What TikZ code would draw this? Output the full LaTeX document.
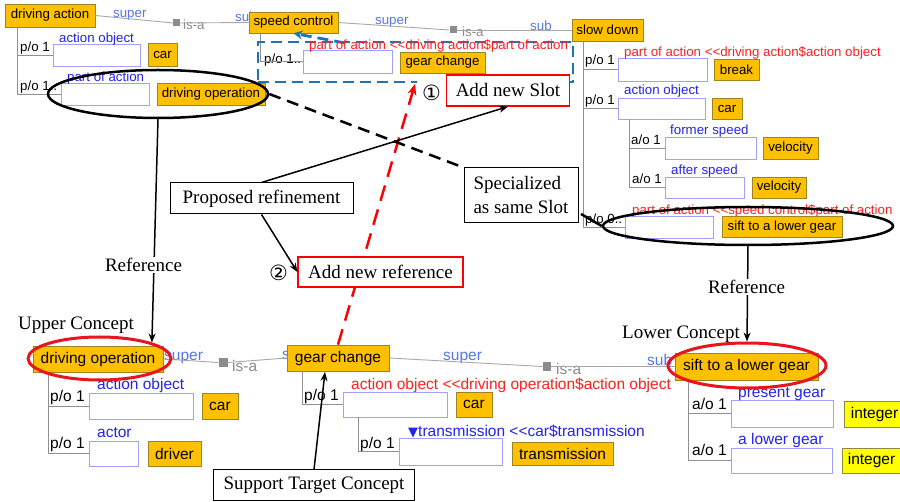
\documentclass[tikz,border=0pt]{standalone}
\usepackage{fontspec}
\setmainfont{Liberation Serif}
\newfontfamily\ui{Liberation Sans}
\newfontfamily\dv{DejaVu Sans}
\usetikzlibrary{arrows.meta,shapes.geometric}
\definecolor{corange}{HTML}{FFC000}
\definecolor{cborder}{HTML}{9E8420}
\definecolor{yel}{HTML}{FFFF00}
\definecolor{yborder}{HTML}{8C8C3C}
\definecolor{slotc}{HTML}{A0A0FF}
\definecolor{supc}{HTML}{5577EE}
\definecolor{labc}{HTML}{2424EE}
\definecolor{redc}{HTML}{FF2020}
\definecolor{isac}{HTML}{8C8C8C}
\definecolor{gline}{HTML}{A8A8A8}
\definecolor{tline}{HTML}{909090}
\definecolor{bdash}{HTML}{1C75BC}
\definecolor{ellred}{HTML}{E8141E}
\newcommand\uiT{\ui\fontsize{13.3}{16}\selectfont}
\newcommand\uiB{\ui\fontsize{15.5}{18}\selectfont}
\newcommand\tmsF{\fontsize{19}{24}\selectfont}
\begin{document}
\begin{tikzpicture}[x=1pt,y=-1pt,
  cbox/.style={draw=cborder, fill=corange, line width=0.7pt, inner sep=0pt, font=\uiT},
  cboxB/.style={cbox, font=\uiB},
  ybox/.style={cboxB, fill=yel, draw=yborder},
  slot/.style={draw=slotc, fill=white, line width=0.9pt, inner sep=0pt},
  lab/.style={inner sep=0pt, anchor=base west, font=\uiT},
  labB/.style={lab, font=\uiB},
  lsup/.style={lab, text=supc},
  lsupB/.style={labB, text=supc},
  llab/.style={lab, text=labc},
  llabB/.style={labB, text=labc},
  lred/.style={lab, text=redc},
  lredB/.style={labB, text=redc},
  lisa/.style={lab, text=isac},
  lisaB/.style={labB, text=isac},
  isasq/.style={fill=isac, inner sep=0pt, minimum size=7pt},
  conn/.style={draw=gline, line width=0.9pt},
  tree/.style={draw=tline, line width=0.9pt},
  tbox/.style={draw=black, fill=white, line width=1pt, inner sep=0pt, font=\tmsF},
  rbox/.style={tbox, draw=red, line width=1.2pt},
  tlab/.style={fill=white, inner sep=1.5pt, font=\tmsF},
  circ/.style={fill=white, inner sep=0pt, font=\dv\fontsize{21}{24}\selectfont},
  bluedash/.style={draw=bdash, line width=2.8pt, dash pattern=on 11pt off 6pt},
  ell/.style={ellipse, draw=black, line width=2.5pt, inner sep=0pt},
  rell/.style={ell, draw=ellred, line width=3pt},
  blk/.style={draw=black, line width=1.5pt, -{Stealth[length=9pt,width=7pt]}},
  blkdash/.style={draw=black, line width=2.5pt, dash pattern=on 12pt off 7pt},
  reddash/.style={draw=red, line width=2.5pt, dash pattern=on 16pt off 9pt, -{Stealth[length=11pt,width=9pt]}}
]
\useasboundingbox (0,0) rectangle (900,502);
\clip (0,0) rectangle (900,502);
\fill[white] (0,0) rectangle (900,502);

% ---------- top left: driving action ----------
\node[lsup] (supA) at (113,18) {super};
\node[lsup] (subA) at (235,22) {sub};
\node[lisa] (isaA) at (183,30) {is-a};
\node[cbox, minimum width=90, minimum height=23] (da) at (50,15.5) {driving action};
\node[cbox, minimum width=89, minimum height=21] (sc) at (293.5,22.5) {speed control};
\node[isasq] (sq1) at (176.5,23) {};
\draw[conn] (da.east) -- (sq1.west);
\draw[conn] (sq1.east) -- (sc.west);

\node[lab] (poA1) at (20,52) {p/o 1};
\node[slot, minimum width=87, minimum height=22] (s1) at (96.5,55) {};
\node[llab] (lA1) at (59,43) {action object};
\node[cbox, minimum width=29, minimum height=23] (car1) at (162.5,54.5) {car};
\node[lab] (poA2) at (20,91) {p/o 1..};
\node[slot, minimum width=88, minimum height=22] (s2) at (105,94) {};
\node[llab] (lA2) at (67,82) {part of action};
\node[cbox, minimum width=108, minimum height=22] (dop1) at (211,94) {driving operation};
\coordinate (t1) at (17,27);
\draw[tree] (t1) |- (s1.west);
\draw[tree] (t1) |- (s2.west);

% ---------- top middle: speed control ----------
\node[lsup] (supB) at (375,25) {super};
\node[lsup] (subB) at (530,31) {sub};
\node[lisa] (isaB) at (462,37) {is-a};
\node[cbox, minimum width=71, minimum height=22] (sd) at (607.5,30) {slow down};
\node[isasq] (sq2) at (453,30) {};
\draw[conn] (sc.east) -- (sq2.west);
\draw[conn] (sq2.east) -- (sd.west);

\node[lab] (poB1) at (264,64) {p/o 1..};
\node[slot, minimum width=89, minimum height=23] (s3) at (347.5,61.5) {};
\node[cbox, minimum width=85, minimum height=21] (gc1) at (442.5,62.5) {gear change};
\coordinate (t2) at (260,33);
\draw[tree] (t2) |- (s3.west);
\node[bluedash, minimum width=315, minimum height=40, inner sep=0pt] (brect) at (415.5,62) {};
\coordinate (bstart) at (345,43);
\draw[bluedash, -{Stealth[length=9pt,width=9pt]}] (bstart) -- (sc.south);
\node[lred] (rB) at (309,50) {part of action <<driving action\$part of action};

% ---------- top right: slow down ----------
\node[lab] (poC1) at (585,65) {p/o 1};
\node[slot, minimum width=89, minimum height=23] (s4) at (662.5,69.5) {};
\node[lred] (rC1) at (624,57) {part of action <<driving action\$action object};
\node[cbox, minimum width=45, minimum height=21] (brk) at (736.5,69.5) {break};
\node[lab] (poC2) at (585,105) {p/o 1};
\node[slot, minimum width=87, minimum height=21] (s5) at (661.5,108.5) {};
\node[llab] (lC2) at (624,95) {action object};
\node[cbox, minimum width=30, minimum height=21] (car2) at (727,108.5) {car};
\node[lab] (aoC1) at (631,145) {a/o 1};
\node[slot, minimum width=91, minimum height=22] (s6) at (710.5,148) {};
\node[llab] (lC3) at (670,135) {former speed};
\node[cbox, minimum width=55, minimum height=22] (vel1) at (790.5,148) {velocity};
\node[lab] (aoC2) at (632,184) {a/o 1};
\node[slot, minimum width=79, minimum height=21] (s7) at (704.5,187.5) {};
\node[llab] (lC4) at (671,175) {after speed};
\node[cbox, minimum width=54, minimum height=21] (vel2) at (779,187.5) {velocity};
\node[lab] (poC3) at (585,224) {p/o 0..};
\node[slot, minimum width=88, minimum height=22] (s8) at (669,227) {};
\node[lred] (rC3) at (632,215) {part of action <<speed control\$part of action};
\node[cbox, minimum width=120, minimum height=21] (sift1) at (782,227) {sift to a lower gear};
\coordinate (t3) at (583,41);
\draw[tree] (t3) |- (s4.west);
\draw[tree] (t3) |- (s5.west);
\draw[tree] (t3) |- (s8.west);
\coordinate (t4) at (629,119);
\draw[tree] (t4) |- (s6.west);
\draw[tree] (t4) |- (s7.west);

% ---------- bottom left: driving operation ----------
\node[lsupB] (supD) at (164,361) {super};
\node[lsupB] (subD) at (282,360) {sub};
\node[lisaB] (isaD) at (232,372) {is-a};
\node[cboxB, minimum width=130, minimum height=26] (dop2) at (98,359) {driving operation};
\node[cboxB, minimum width=102, minimum height=26] (gc2) at (338,358) {gear change};
\node[isasq, minimum size=9pt] (sq3) at (223,362.5) {};
\draw[conn] (dop2.east) -- (sq3.west);
\draw[conn] (sq3.east) -- (gc2.west);

\node[labB] (poD1) at (50,402) {p/o 1};
\node[slot, minimum width=104, minimum height=26] (s9) at (141,406) {};
\node[llabB] (lD1) at (97,390) {action object};
\node[cboxB, minimum width=36, minimum height=26] (car3) at (220,406) {car};
\node[labB] (poD2) at (50,449) {p/o 1};
\node[slot, minimum width=49, minimum height=25] (s10) at (113.5,453.5) {};
\node[llabB] (lD2) at (97,438) {actor};
\node[cboxB, minimum width=53, minimum height=25] (drv) at (174.5,453.5) {driver};
\coordinate (t5) at (48,372);
\draw[tree] (t5) |- (s9.west);
\draw[tree] (t5) |- (s10.west);

% ---------- bottom middle: gear change ----------
\node[lsupB] (supE) at (443,361) {super};
\node[lsupB] (subE) at (647,366) {sub};
\node[lisaB] (isaE) at (556,375) {is-a};
\node[cboxB, minimum width=143, minimum height=27] (sift2) at (746.5,366.5) {sift to a lower gear};
\node[isasq, minimum size=8.5pt] (sq4) at (547,366.5) {};
\draw[conn] (gc2.east) -- (sq4.west);
\draw[conn] (sq4.east) -- (sift2.west);

\node[lredB] (rE) at (351,390) {action object <<driving operation\$action object};
\node[labB] (poE1) at (304,401) {p/o 1};
\node[slot, minimum width=104, minimum height=25] (s11) at (395,404.5) {};
\node[cboxB, minimum width=36, minimum height=25] (car4) at (474,404.5) {car};
\node[labB] (poE2) at (360,449) {p/o 1};
\node[slot, minimum width=103, minimum height=27] (s12) at (450.5,451.5) {};
\node[llabB] (lE2) at (408,437) {{\dv\fontsize{13}{15}\selectfont ▼}transmission <<car\$transmission};
\node[cboxB, minimum width=101, minimum height=23] (trans) at (562.5,453.5) {transmission};
\coordinate (t6) at (302,371);
\draw[tree] (t6) |- (s11.west);
\coordinate (t7) at (358,417);
\draw[tree] (t7) |- (s12.west);

% ---------- bottom right: sift to a lower gear ----------
\node[labB] (aoF1) at (692,410) {a/o 1};
\node[slot, minimum width=102, minimum height=27] (s13) at (782,413.5) {};
\node[llabB] (lF1) at (738,398) {present gear};
\node[ybox, minimum width=61, minimum height=26] (int1) at (874.5,414) {integer};
\node[labB] (aoF2) at (692,456) {a/o 1};
\node[slot, minimum width=101, minimum height=25] (s14) at (781.5,460.5) {};
\node[llabB] (lF2) at (738,445) {a lower gear};
\node[ybox, minimum width=59, minimum height=25] (int2) at (871.5,460.5) {integer};
\coordinate (t8) at (688,380);
\draw[tree] (t8) |- (s13.west);
\draw[tree] (t8) |- (s14.west);

% ---------- ellipses ----------
\node[ell, minimum width=220, minimum height=48] (E1) at (158,94) {};
\node[ell, minimum width=290, minimum height=38] (E2) at (748,226) {};
\node[rell, minimum width=143, minimum height=43] (Eup) at (99.5,358.5) {};
\node[rell, minimum width=158, minimum height=45] (Elow) at (747,365.5) {};

% ---------- red dashed reference line ----------
\coordinate (rtip) at (415,84);
\draw[reddash] (gc2.north) -- (rtip);

% ---------- annotation boxes ----------
\node[circ, minimum width=30, minimum height=26] (n1) at (431.5,92.5) {①};
\node[rbox, minimum width=123, minimum height=31] (ans) at (508,90.5) {Add new Slot};
\node[tbox, minimum width=183, minimum height=31] (pr) at (261.5,198.5) {Proposed refinement};
\node[tbox, minimum width=114, minimum height=55, align=left, inner xsep=8pt] (spec) at (521,195.5) {Specialized\\as same Slot};
\node[circ] (n2) at (278.5,273) {②};
\node[rbox, minimum width=165, minimum height=30] (anr) at (380.5,272) {Add new reference};
\node[tbox, minimum width=201, minimum height=30] (stc) at (314,485) {Support Target Concept};

% ---------- connectors ----------
\draw[blk] (E1.south) -- (Eup.17);
\draw[blk] (E2.south) -- (Elow.north);
\draw[blk] (pr.north) -- (ans.south);
\draw[blk] (pr.south) -- (anr.west);
\draw[blkdash] (E1.east) -- (spec.north west);
\coordinate (sp1) at (581,214);
\draw[draw=black, line width=2.5pt] (sp1) -- (E2.west);
\coordinate (stip) at (325,372);
\draw[blk] (stc.north) -- (stip);

% ---------- plain Times labels ----------
\node[tlab] (ref1) at (143.5,265) {Reference};
\node[tlab] (ref2) at (746.5,287) {Reference};
\node[tlab, fill=none] (upc) at (76,325) {Upper Concept};
\node[tlab, fill=none] (lowc) at (681,334) {Lower Concept};
\end{tikzpicture}
\end{document}
